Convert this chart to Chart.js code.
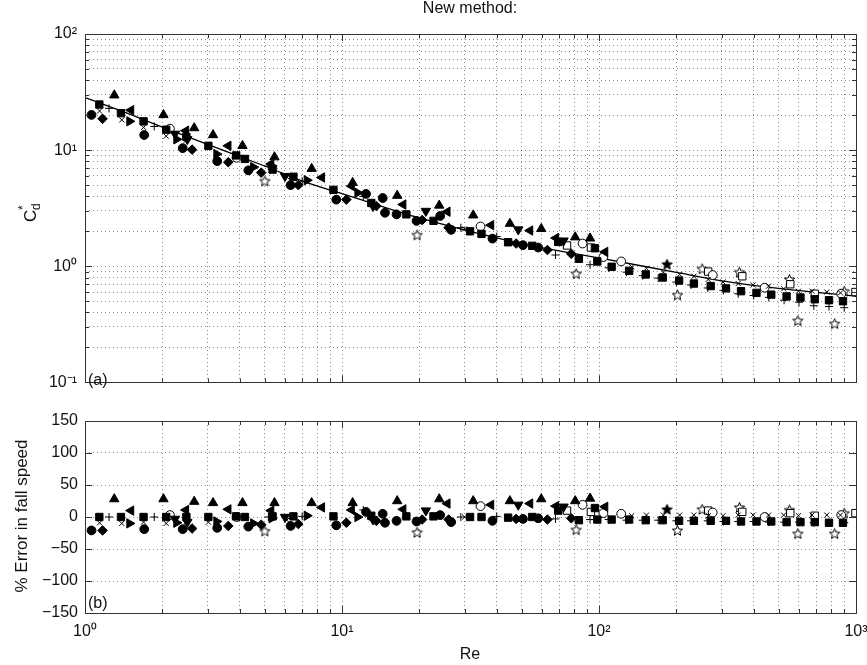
<!DOCTYPE html>
<html>
<head>
<meta charset="utf-8">
<script src="https://cdn.jsdelivr.net/npm/chart.js@4.4.1/dist/chart.umd.min.js"></script>
<style>
    body { margin: 0; background: #fff; }
    #wrap { position: relative; width: 867px; height: 665px; }
    #cdChart { position: absolute; left: 0; top: 0; }
    #errChart { position: absolute; left: 0; top: 400px; }
</style>
</head>
<body>
<div id="wrap">
    <canvas id="cdChart" width="867" height="400"></canvas>
    <canvas id="errChart" width="867" height="265"></canvas>
</div>
<script>
// axis ticks
const xDecades = [1, 10, 100, 1000];
const xTickLabels = ['10\u2070', '10\u00b9', '10\u00b2', '10\u00b3'];
const cdDecades = [0.1, 1, 10, 100];
const cdTickLabels = ['10\u207b\u00b9', '10\u2070', '10\u00b9', '10\u00b2'];
const errTicks = [-150, -100, -50, 0, 50, 100, 150];
const errTickLabels = ['\u2212150', '\u2212100', '\u221250', '0', '50', '100', '150'];

// fitted drag curve
const curveRe = [1, 1.5, 2, 3, 5, 7.5, 10, 20, 54, 100, 200, 296, 500, 1000];
const curveCd = [28.3, 20.3, 15.8, 11.2, 7.3, 5.14, 4.23, 2.61, 1.51, 1.18, 0.885, 0.753, 0.645, 0.552];

// measured points: Re, Cd*, % error in fall speed
const circRe  = [1.06, 1.70, 2.40, 3.27, 4.32, 6.31, 9.5, 12.4, 14.4, 14.7, 16.3, 19.5, 24.1, 26.6, 38.5, 50.6, 58];
const circCd  = [20.1, 13.5, 10.4, 8.04, 6.7, 5.0, 3.75, 4.2, 3.87, 2.89, 2.8, 2.46, 2.71, 2.06, 1.73, 1.52, 1.45];
const circErr = [-21, -19, -19, -17, -15, -14, -13, 8, 5, -9, -6, -7, 3, -8, -6, -3, -2];

const diamRe  = [1.17, 2.61, 3.61, 4.85, 6.76, 10.4, 13.6, 20.5, 26, 47.6, 63, 78];
const diamCd  = [18.6, 10.1, 7.87, 6.4, 5.0, 3.75, 3.3, 2.5, 2.15, 1.57, 1.38, 1.28];
const diamErr = [-21, -18, -14, -12, -11, -9, -6, -4, -4, -3, -4, -2];

const sqRe  = [1.137, 1.38, 1.69, 2.07, 2.48, 3.02, 3.87, 4.19, 5.37, 6.47, 9.26, 13.0, 17.8, 22.7, 31.5, 34.9, 44.3, 55, 69.4, 83.5, 96.4, 98.5,
               112, 131, 152, 177, 205, 234, 272, 312, 357, 410, 468, 537, 608, 691, 785, 890];
const sqCd  = [24.7, 20.8, 17.7, 15.0, 13.0, 10.9, 9.0, 8.4, 6.8, 5.9, 4.55, 3.51, 2.8, 2.46, 2.0, 1.9, 1.61, 1.5, 1.62, 1.16, 1.43, 1.1,
               0.99, 0.914, 0.85, 0.80, 0.753, 0.71, 0.675, 0.645, 0.61, 0.59, 0.57, 0.55, 0.538, 0.52, 0.51, 0.50];
const sqErr = [0, 0, 0, 0, 0, 0, 1, 0, 1, 1, 1, 2, 1, 1, 0, 0, -1, 0, 10, -5, 14, -4,
               -4, -4, -5, -5, -6, -6, -6, -6, -7, -7, -7, -8, -8, -8, -9, -9];

const plusRe  = [1.24, 1.86, 4.0, 5.17, 7.0, 12.1, 29, 40, 67.7, 92.3, 109, 128, 148, 170, 200, 228, 265, 305, 348, 400, 458, 525, 600, 685, 785, 900];
const plusCd  = [22.9, 16.0, 9.0, 7.3, 5.4, 4.0, 2.15, 1.8, 1.25, 1.03, 0.97, 0.89, 0.83, 0.79, 0.73, 0.69, 0.65, 0.62, 0.58, 0.56, 0.54, 0.51, 0.49, 0.457, 0.45, 0.44];
const plusErr = [0, 0, 0, 0, 1, 11, 0, 1, -3, -4, -4, -5, -5, -5, -6, -6, -6, -7, -7, -7, -8, -8, -8, -9, -9, -9];

const xRe  = [1.14, 1.39, 1.69, 2.07, 2.48, 3.02, 6.1, 13, 30, 134, 153, 178, 206, 234, 266, 304, 348, 398, 457, 523, 597, 674, 770, 870];
const xCd  = [21.7, 18.2, 15.7, 13.2, 12.2, 10.5, 5.9, 3.4, 2.1, 0.99, 0.96, 0.89, 0.85, 0.82, 0.77, 0.73, 0.71, 0.69, 0.675, 0.64, 0.61, 0.61, 0.60, 0.59];
const xErr = [-9, -10, -8, -10, -8, -8, -5, -2, 0, 2, 3, 3, 3, 3, 2, 2, 3, 3, 3, 3, 2, 3, 3, 3];

const upRe  = [1.30, 2.02, 2.66, 3.15, 4.10, 5.46, 7.62, 11.0, 16.4, 23.9, 32.4, 45, 59.6, 80.8, 92.3];
const upCd  = [29.7, 20.1, 15.5, 13.5, 10.9, 8.7, 6.92, 5.24, 4.06, 3.34, 2.75, 2.33, 2.1, 1.78, 1.74];
const upErr = [28, 28, 24, 22, 22, 22, 22, 22, 25, 28, 25, 25, 28, 25, 29];

const leftRe  = [1.51, 2.47, 3.61, 5.3, 8.35, 10.9, 17.3, 25.7, 38.0, 53.9, 68, 105.6];
const leftCd  = [22.1, 14.7, 10.9, 7.6, 5.81, 4.9, 3.4, 2.95, 2.26, 2.03, 1.75, 1.33];
const leftErr = [10, 11, 12, 10, 15, 11, 12, 21, 19, 21, 17, 16];

const rightRe  = [1.49, 2.27, 3.25, 4.52, 5.33, 7.3, 11.5];
const rightCd  = [17.7, 12.4, 9.25, 7.14, 7.3, 5.5, 4.3];
const rightErr = [-10, -9, -7, -10, -2, 2, 0];

const downRe  = [2.24, 2.5, 6.0, 13.2, 21.2, 48.5, 72.8];
const downCd  = [13.8, 12.4, 5.97, 3.29, 2.99, 2.07, 1.66];
const downErr = [-3, -8, 0, -4, 10, 19, 16];

const oCircRe  = [2.14, 3.89, 34.6, 86.3, 104, 122, 277, 441, 876];
const oCircCd  = [15.3, 8.6, 2.2, 1.57, 1.2, 1.1, 0.84, 0.654, 0.58];
const oCircErr = [3, 0, 17, 19, 6, 5, 7, 0, 3];

const oSqRe  = [75.1, 93, 266, 361, 555, 691, 995];
const oSqCd  = [1.51, 1.45, 0.9, 0.82, 0.70, 0.58, 0.6];
const oSqErr = [10, 8, 10, 8, 6, 2, 6];

const oStarRe  = [5.01, 19.6, 81.5, 202, 252, 352, 551, 594, 826, 900];
const oStarCd  = [5.42, 1.86, 0.863, 0.565, 0.95, 0.89, 0.77, 0.34, 0.32, 0.61];
const oStarErr = [-22, -24, -20, -21, 12, 15, 11, -26, -26, 6];

const fStarRe  = [184];
const fStarCd  = [1.04];
const fStarErr = [12];

const FONT = "'Liberation Sans', Arial, sans-serif";

function isDecade(v) {
    const l = Math.log10(v);
    return Math.abs(l - Math.round(l)) < 1e-6;
}

function logTicks(decades) {
    const out = [];
    for (let i = 0; i < decades.length - 1; i++) {
        for (let k = 1; k < 10; k++) out.push(decades[i] * k);
    }
    out.push(decades[decades.length - 1]);
    return out;
}

function decadeLabel(v, decades, labels) {
    if (!isDecade(v)) return '';
    const i = decades.findIndex(d => Math.abs(Math.log10(d) - Math.log10(v)) < 1e-6);
    return i >= 0 ? labels[i] : '';
}

function starImage(filled) {
    const c = document.createElement('canvas');
    c.width = c.height = 13;
    const g = c.getContext('2d');
    g.beginPath();
    for (let i = 0; i < 10; i++) {
        const r = i % 2 ? 2.4 : 5.4;
        const a = -Math.PI / 2 + i * Math.PI / 5;
        const px = 6.5 + r * Math.cos(a), py = 6.9 + r * Math.sin(a);
        i ? g.lineTo(px, py) : g.moveTo(px, py);
    }
    g.closePath();
    g.fillStyle = filled ? '#000' : '#fff';
    g.fill();
    g.strokeStyle = '#000';
    g.lineWidth = 1;
    g.stroke();
    return c;
}

const markers = [
    { re: circRe,  cd: circCd,  err: circErr,  style: 'circle',   radius: 4.4, fill: true },
    { re: diamRe,  cd: diamCd,  err: diamErr,  style: 'rectRot',  radius: 4.8, fill: true },
    { re: sqRe,    cd: sqCd,    err: sqErr,    style: 'rect',     radius: 5.2, fill: true },
    { re: plusRe,  cd: plusCd,  err: plusErr,  style: 'cross',    radius: 4,   fill: false },
    { re: xRe,     cd: xCd,     err: xErr,     style: 'crossRot', radius: 3.6, fill: false },
    { re: upRe,    cd: upCd,    err: upErr,    style: 'triangle', radius: 5.4, fill: true, rot: 0 },
    { re: leftRe,  cd: leftCd,  err: leftErr,  style: 'triangle', radius: 5.4, fill: true, rot: -90 },
    { re: rightRe, cd: rightCd, err: rightErr, style: 'triangle', radius: 5.4, fill: true, rot: 90 },
    { re: downRe,  cd: downCd,  err: downErr,  style: 'triangle', radius: 5.4, fill: true, rot: 180 },
    { re: oCircRe, cd: oCircCd, err: oCircErr, style: 'circle',   radius: 4.4, fill: false },
    { re: oSqRe,   cd: oSqCd,   err: oSqErr,   style: 'rect',     radius: 5.2, fill: false },
    { re: oStarRe, cd: oStarCd, err: oStarErr, style: starImage(false), radius: 6, fill: false },
    { re: fStarRe, cd: fStarCd, err: fStarErr, style: starImage(true),  radius: 6, fill: true }
];

function markerDatasets(key) {
    return markers.map(m => ({
        data: m.re.map((r, i) => ({ x: r, y: m[key][i] })),
        pointStyle: m.style,
        pointRadius: m.radius,
        pointHoverRadius: m.radius,
        pointRotation: m.rot || 0,
        pointBackgroundColor: m.fill ? '#000' : '#fff',
        pointBorderColor: '#000',
        pointBorderWidth: 1,
        showLine: false
    }));
}

function gridOpts() {
    return { color: 'rgba(0,0,0,0.45)', lineWidth: 1, drawTicks: false };
}

const xTickValues = logTicks(xDecades);

// draws the axes box and the inward tick marks
const framePlugin = {
    id: 'frame',
    afterDraw(chart) {
        const { ctx, chartArea: a } = chart;
        const xs = chart.scales.x, ys = chart.scales.y;
        ctx.save();
        ctx.strokeStyle = '#333';
        ctx.lineWidth = 1;
        ctx.beginPath();
        xTickValues.forEach(v => {
            const px = Math.round(xs.getPixelForValue(v)) + 0.5;
            const len = isDecade(v) ? 7 : 4;
            ctx.moveTo(px, a.bottom); ctx.lineTo(px, a.bottom - len);
            ctx.moveTo(px, a.top); ctx.lineTo(px, a.top + len);
        });
        ys.ticks.forEach(t => {
            const py = Math.round(ys.getPixelForValue(t.value)) + 0.5;
            const len = ys.type === 'logarithmic' && !isDecade(t.value) ? 4 : 7;
            ctx.moveTo(a.left, py); ctx.lineTo(a.left + len, py);
            ctx.moveTo(a.right, py); ctx.lineTo(a.right - len, py);
        });
        ctx.stroke();
        ctx.strokeRect(Math.round(a.left) + 0.5, Math.round(a.top) + 0.5, Math.round(a.right - a.left), Math.round(a.bottom - a.top));
        ctx.restore();
    }
};

function xScale(showLabels) {
    return {
        type: 'logarithmic',
        min: 1,
        max: 1000,
        grid: gridOpts(),
        border: { display: false, dash: [1, 3] },
        afterBuildTicks: s => { s.ticks = xTickValues.map(v => ({ value: v })); },
        afterFit: s => {
            s.height = showLabels ? 52 : 0;
            // let the last label run past the plot edge
            s.paddingLeft = 0;
            s.paddingRight = 0;
        },
        ticks: {
            display: showLabels,
            autoSkip: false,
            maxRotation: 0,
            padding: 9,
            color: '#111',
            font: { family: FONT, size: 16 },
            callback: v => decadeLabel(v, xDecades, xTickLabels)
        }
    };
}

new Chart(document.getElementById('cdChart'), {
    type: 'scatter',
    data: {
        datasets: [
            ...markerDatasets('cd'),
            {
                data: curveRe.map((r, i) => ({ x: r, y: curveCd[i] })),
                showLine: true,
                borderColor: '#000',
                borderWidth: 1.3,
                pointRadius: 0,
                cubicInterpolationMode: 'monotone'
            }
        ]
    },
    options: {
        responsive: false,
        animation: false,
        layout: { autoPadding: false, padding: { left: 0, right: 11, top: 34, bottom: 10 } },
        plugins: { legend: { display: false }, tooltip: { enabled: false } },
        scales: {
            x: xScale(false),
            y: {
                type: 'logarithmic',
                min: 0.1,
                max: 100,
                grid: gridOpts(),
                border: { display: false, dash: [1, 3] },
                afterBuildTicks: s => { s.ticks = logTicks(cdDecades).map(v => ({ value: v })); },
                afterFit: s => { s.width = 85; },
                ticks: {
                    autoSkip: false,
                    padding: 8,
                    color: '#111',
                    font: { family: FONT, size: 16 },
                    callback: v => decadeLabel(v, cdDecades, cdTickLabels)
                }
            }
        }
    },
    plugins: [framePlugin, {
        id: 'cdText',
        afterDraw(chart) {
            const ctx = chart.ctx;
            ctx.save();
            ctx.fillStyle = '#111';
            ctx.textBaseline = 'middle';
            ctx.font = `16px ${FONT}`;
            ctx.textAlign = 'center';
            ctx.fillText('New method:', 470, 9);
            ctx.textAlign = 'left';
            ctx.fillText('(a)', 88, 381);
            // C*d, rotated
            ctx.translate(31, 213);
            ctx.rotate(-Math.PI / 2);
            ctx.font = `17px ${FONT}`;
            ctx.textAlign = 'left';
            ctx.fillText('C', -9, 0);
            ctx.font = `12px ${FONT}`;
            ctx.fillText('*', 3, -7);
            ctx.fillText('d', 3, 6);
            ctx.restore();
        }
    }]
});

new Chart(document.getElementById('errChart'), {
    type: 'scatter',
    data: { datasets: markerDatasets('err') },
    options: {
        responsive: false,
        animation: false,
        layout: { autoPadding: false, padding: { left: 0, right: 11, top: 21, bottom: 0 } },
        plugins: { legend: { display: false }, tooltip: { enabled: false } },
        scales: {
            x: xScale(true),
            y: {
                type: 'linear',
                min: -150,
                max: 150,
                grid: gridOpts(),
                border: { display: false, dash: [1, 3] },
                afterBuildTicks: s => { s.ticks = errTicks.map(v => ({ value: v })); },
                afterFit: s => { s.width = 85; },
                ticks: {
                    autoSkip: false,
                    padding: 7,
                    color: '#111',
                    font: { family: FONT, size: 16 },
                    callback: v => errTickLabels[errTicks.indexOf(v)]
                }
            }
        }
    },
    plugins: [framePlugin, {
        id: 'errText',
        afterDraw(chart) {
            const ctx = chart.ctx;
            ctx.save();
            ctx.fillStyle = '#111';
            ctx.textBaseline = 'middle';
            ctx.font = `16px ${FONT}`;
            ctx.textAlign = 'left';
            ctx.fillText('(b)', 88, 204);
            ctx.textAlign = 'center';
            ctx.fillText('Re', 470, 255);
            ctx.font = `17px ${FONT}`;
            ctx.translate(22, 116);
            ctx.rotate(-Math.PI / 2);
            ctx.fillText('% Error in fall speed', 0, 0);
            ctx.restore();
        }
    }]
});
</script>
</body>
</html>
